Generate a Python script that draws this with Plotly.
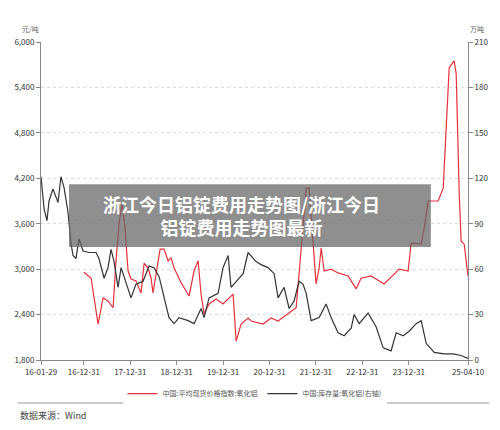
import pandas as pd
import plotly.graph_objects as go

start = pd.Timestamp("2016-01-29")
price_days = [338,394,449,488,527,567,590,614,638,661,685,708,747,787,811,842,866,881,905,937,968,1000,1023,1047,1102,1165,1204,1236,1259,1283,1322,1377,1432,1511,1535,1574,1629,1653,1747,1810,1865,1944,2007,2030,2062,2086,2109,2141,2164,2188,2204,2227,2282,2337,2416,2479,2518,2597,2699,2778,2817,2888,2912,2991,3014,3046,3124,3164,3187,3211,3250,3266,3290,3305,3329,3359]
price_vals = [2960,2880,2275,2620,2580,2490,3110,3600,3860,3540,2975,2870,2845,2685,3080,3015,2880,2685,2935,3265,3265,3110,3150,3015,2820,2645,2975,3110,2670,2410,2540,2605,2540,2670,2050,2275,2355,2315,2275,2355,2315,2410,2490,2935,3540,4070,4070,3370,2805,3015,3280,2975,3000,2950,2910,2740,2880,2910,2805,2935,3000,2975,3345,3330,3540,3900,3900,4070,4920,5660,5750,5580,3990,3370,3330,2910]
inv_days = [0,24,47,63,94,134,157,181,212,236,252,275,299,331,378,433,456,496,527,551,575,606,630,661,708,747,803,850,889,929,968,1007,1047,1086,1157,1204,1259,1283,1322,1393,1432,1472,1495,1535,1590,1629,1692,1731,1786,1834,1865,1912,1952,1991,2030,2062,2086,2125,2188,2243,2282,2337,2385,2440,2463,2503,2573,2636,2692,2754,2794,2849,2896,2951,2991,3030,3093,3172,3242,3305,3359]
inv_vals = [121,100,92,105,113,104,121,114,98,77,69,67,80,72,71,71,67,54,61,73,65,48,61,53,41,50,52,62,61,55,41,28,24,28,26,24,34,28,41,44,61,69,48,52,57,71,65,63,61,57,41,48,34,39,52,50,44,26,28,37,28,18,16,21,30,24,31,22,8,6,18,16,19,24,26,11,5,4,4,3,1]
tick_dates = ["2016-01-29","2016-12-31","2017-12-31","2018-12-31","2019-12-31","2020-12-31","2021-12-31","2022-12-31","2023-12-31","2025-04-10"]
tick_labels = ["16-01-29","16-12-31","17-12-31","18-12-31","19-12-31","20-12-31","21-12-31","22-12-31","23-12-31","25-04-10"]
left_ticks = [1800,2400,3000,3600,4200,4800,5400,6000]
right_ticks = [0,30,60,90,120,150,180,210]

px = [start + pd.Timedelta(days=d) for d in price_days]
ix = [start + pd.Timedelta(days=d) for d in inv_days]
F = "Noto Sans CJK SC"
fig = go.Figure()
fig.add_trace(go.Scatter(x=px, y=price_vals, mode="lines", line=dict(color="#e8303a", width=1.2),
                         name="中国:平均现货价格指数:氧化铝"))
fig.add_trace(go.Scatter(x=ix, y=inv_vals, mode="lines", line=dict(color="#333333", width=1.2),
                         name="中国:库存量:氧化铝(右轴)", yaxis="y2"))
fig.update_layout(
    width=500, height=430, margin=dict(l=33, r=40, t=34, b=78, autoexpand=False),
    plot_bgcolor="white", paper_bgcolor="white",
    font=dict(family=F, size=8, color="#333"),
    xaxis=dict(type="date", range=[start, start + pd.Timedelta(days=3359)], tickvals=tick_dates,
               ticktext=tick_labels, showgrid=False, showline=True, linecolor="#888",
               ticks="outside", ticklen=4, tickcolor="#888", tickfont=dict(size=8), automargin=False),
    yaxis=dict(range=[1800, 6000], tickvals=left_ticks, tickformat=",", showline=True,
               linecolor="#888", ticks="outside", ticklen=4, tickcolor="#888", automargin=False,
               gridcolor="#ddd", griddash="dot", zeroline=False, tickfont=dict(size=8)),
    yaxis2=dict(range=[0, 210], tickvals=right_ticks, overlaying="y", side="right", automargin=False,
                showline=True, linecolor="#888", ticks="outside", ticklen=4, tickcolor="#888",
                showgrid=False, zeroline=False, tickfont=dict(size=8)),
    legend=dict(orientation="h", x=0.5, xanchor="center", y=-0.06, yanchor="top",
                font=dict(size=7, color="#555")),
    showlegend=True,
)
fig.add_shape(type="line", xref="paper", yref="paper", x0=-0.055, x1=1.05, y0=1.11, y1=1.11,
              line=dict(color="#aaa", width=1.5))
fig.add_shape(type="line", xref="paper", yref="paper", x0=-0.055, x1=1.05, y0=-0.135, y1=-0.135,
              line=dict(color="#bbb", width=1.5))
fig.add_annotation(text="元/吨", xref="paper", yref="paper", x=0.0, y=1.02, showarrow=False,
                   xanchor="right", yanchor="bottom", font=dict(size=7, color="#666"))
fig.add_annotation(text="万吨", xref="paper", yref="paper", x=1.0, y=1.02, showarrow=False,
                   xanchor="left", yanchor="bottom", font=dict(size=7, color="#666"))
fig.add_annotation(text="数据来源：Wind", xref="paper", yref="paper", x=-0.055, y=-0.176,
                   showarrow=False, xanchor="left", yanchor="middle", font=dict(size=9, color="#444"))
fig.add_shape(type="rect", xref="paper", yref="paper", x0=0.0656, x1=0.913, y0=0.355, y1=0.553,
              fillcolor="rgba(100,100,100,0.72)", line=dict(width=0), layer="above")
fig.add_annotation(text="<b>浙江今日铝锭费用走势图/浙江今日<br>铝锭费用走势图最新</b>", xref="paper", yref="paper",
                   x=0.47, y=0.454, showarrow=False, align="center",
                   font=dict(size=18, color="white", family=F))
fig.write_html("out.html")
